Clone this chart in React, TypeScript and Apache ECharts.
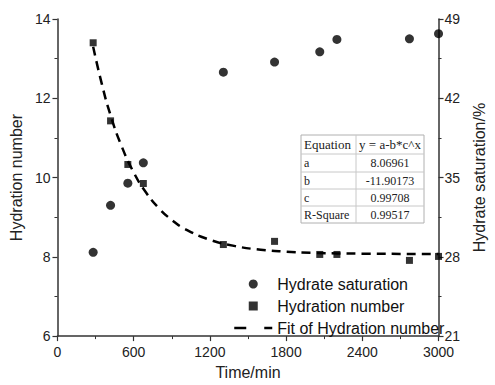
import React, { useEffect, useRef } from "react";
import * as echarts from "echarts";

const timeMin = [281, 418, 554, 676, 1306, 1709, 2065, 2200, 2771, 3000];
const hydrationNumber = [13.4, 11.43, 10.33, 9.85, 8.31, 8.39, 8.06, 8.06, 7.91, 8.01];
const hydrateSaturation = [28.4, 32.55, 34.5, 36.3, 44.3, 45.2, 46.1, 47.2, 47.25, 47.7];
const fitTime = [281, 350, 420, 500, 600, 700, 800, 900, 1000, 1200, 1400, 1600, 1800, 2000, 2400, 3000];
const fitValue = [13.3, 12.35, 11.55, 10.83, 10.13, 9.61, 9.22, 8.93, 8.71, 8.43, 8.27, 8.18, 8.13, 8.1, 8.08, 8.07];
const tableRows = [
  ["Equation", "y = a-b*c^x"],
  ["a", "8.06961"],
  ["b", "-11.90173"],
  ["c", "0.99708"],
  ["R-Square", "0.99517"],
];

const FONT = "'Liberation Sans', Arial, sans-serif";
const SERIF = "'Liberation Serif', 'Times New Roman', serif";
const AX = "#333";

export default function App() {
  const ref = useRef<HTMLDivElement>(null);
  useEffect(() => {
    if (!ref.current) return;
    document.body.style.margin = "0";
    const chart = echarts.init(ref.current, null, { renderer: "svg" });

    const tLeft = 301, tTop = 135, colX = 356, tRight = 424;
    const rowTops = [135, 154, 172, 189, 206, 223];
    const table: any[] = [
      { type: "rect", shape: { x: tLeft, y: tTop, width: tRight - tLeft, height: rowTops[5] - tTop }, style: { fill: "#fff", stroke: "#b0b0b0", lineWidth: 1 } },
      { type: "line", shape: { x1: colX, y1: tTop, x2: colX, y2: rowTops[5] }, style: { stroke: "#c8c8c8", lineWidth: 1 } },
    ];
    for (let i = 1; i < 5; i++) {
      table.push({ type: "line", shape: { x1: tLeft, y1: rowTops[i], x2: tRight, y2: rowTops[i] }, style: { stroke: "#c8c8c8", lineWidth: 1 } });
    }
    tableRows.forEach((r, i) => {
      const cy = (rowTops[i] + rowTops[i + 1]) / 2;
      table.push({ type: "text", x: tLeft + 3, y: cy, style: { text: r[0], font: `${i === 0 ? 13 : 12}px ${SERIF}`, fill: "#222", verticalAlign: "middle", align: "left" } });
      table.push({ type: "text", x: (colX + tRight) / 2, y: cy, style: { text: r[1], font: `${i === 0 ? 13 : 12}px ${SERIF}`, fill: "#222", verticalAlign: "middle", align: "center" } });
    });

    const axisCommon = {
      axisLine: { show: true, lineStyle: { color: AX, width: 1.5 } },
      axisTick: { show: true, inside: false, length: 5, lineStyle: { color: AX, width: 1.2 } },
      minorTick: { show: true, splitNumber: 2, length: 3, lineStyle: { color: AX, width: 1 } },
      splitLine: { show: false },
      axisLabel: { color: "#222", fontSize: 14, fontFamily: FONT, formatter: (v: number) => String(v) },
      nameTextStyle: { color: "#222", fontSize: 16, fontFamily: FONT },
    };

    chart.setOption({
      animation: false,
      backgroundColor: "#fff",
      grid: { left: 57, right: 43, top: 19, bottom: 48, containLabel: false },
      xAxis: {
        type: "value", min: 0, max: 3000, interval: 600,
        name: "Time/min", nameLocation: "middle", nameGap: 27,
        ...axisCommon,
        axisLabel: { ...axisCommon.axisLabel, margin: 9 },
      },
      yAxis: [
        {
          type: "value", min: 6, max: 14, interval: 2, position: "left",
          name: "Hydration number", nameLocation: "middle", nameGap: 30,
          ...axisCommon,
          axisLabel: { ...axisCommon.axisLabel, margin: 7 },
        },
        {
          type: "value", min: 21, max: 49, interval: 7, position: "right",
          name: "Hydrate saturation/%", nameLocation: "middle", nameGap: 24, nameRotate: 90,
          ...axisCommon,
          axisLabel: { ...axisCommon.axisLabel, margin: 6 },
        },
      ],
      legend: {
        orient: "vertical",
        left: 233, top: 276,
        padding: 0,
        itemGap: 6,
        itemWidth: 38, itemHeight: 9,
        symbolKeepAspect: true,
        textStyle: { fontSize: 16, fontFamily: FONT, color: "#111" },
        data: [
          { name: "Hydrate saturation", icon: "circle" },
          { name: "Hydration number", icon: "path://M0,0 L8,0 L8,8 L0,8 Z", itemStyle: { color: "#000" } },
          {
            name: "Fit of Hydration number",
            itemStyle: { color: "rgba(0,0,0,0)", borderWidth: 0 },
            lineStyle: { color: "#000", width: 2.5, type: [12, 18] },
          },
        ],
      },
      series: [
        {
          name: "Hydrate saturation", type: "scatter", yAxisIndex: 1,
          symbol: "circle", symbolSize: 9,
          itemStyle: { color: "#000" },
          data: timeMin.map((t, i) => [t, hydrateSaturation[i]]),
          z: 3,
        },
        {
          name: "Hydration number", type: "scatter", yAxisIndex: 0,
          symbol: "rect", symbolSize: 7,
          itemStyle: { color: "#000" },
          data: timeMin.map((t, i) => [t, hydrationNumber[i]]),
          z: 3,
        },
        {
          name: "Fit of Hydration number", type: "line", yAxisIndex: 0,
          smooth: true, showSymbol: false, symbol: "none",
          lineStyle: { color: "#000", width: 2.5, type: [9, 6] },
          itemStyle: { color: "#000" },
          data: fitTime.map((t, i) => [t, fitValue[i]]),
          z: 2,
        },
      ],
      graphic: table,
    });
    return () => chart.dispose();
  }, []);
  return <div ref={ref} style={{ width: 495, height: 385 }} />;
}
